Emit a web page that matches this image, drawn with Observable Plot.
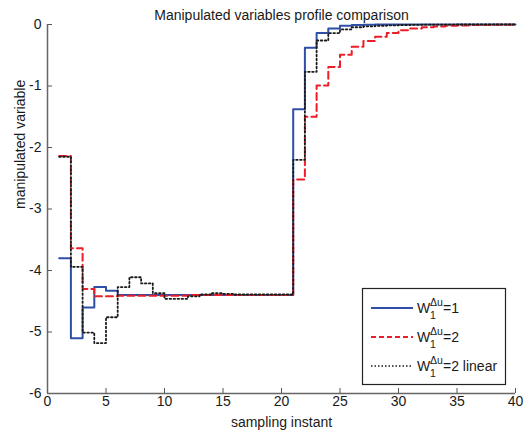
<!DOCTYPE html>
<html>
<head>
<meta charset="utf-8">
<script src="https://cdn.jsdelivr.net/npm/d3@7"></script>
<script src="https://cdn.jsdelivr.net/npm/@observablehq/plot@0.6"></script>
<style>
  html, body { margin: 0; padding: 0; background: #fff; }
  #chart svg { display: block; }
</style>
</head>
<body>
<div id="chart"></div>
<script>
const titleText = "Manipulated variables profile comparison";
const xLabel = "sampling instant";
const yLabel = "manipulated variable";
const xTicks = [0, 5, 10, 15, 20, 25, 30, 35, 40];
const yTicks = [0, -1, -2, -3, -4, -5, -6];

const instants = d3.range(1, 41);

const seriesW1 = [-3.80, -5.10, -4.60, -4.27, -4.33, -4.40, -4.40, -4.40, -4.40, -4.40,
  -4.40, -4.40, -4.40, -4.40, -4.40, -4.40, -4.40, -4.40, -4.40, -4.40,
  -1.38, -0.38, -0.14, -0.065, -0.02, -0.008, -0.004, -0.002, -0.001, 0,
  0, 0, 0, 0, 0, 0, 0, 0, 0, 0];

const seriesW2 = [-2.14, -3.64, -4.30, -4.42, -4.42, -4.41, -4.41, -4.41, -4.41, -4.41,
  -4.41, -4.40, -4.40, -4.40, -4.40, -4.40, -4.40, -4.40, -4.40, -4.40,
  -2.52, -1.50, -0.99, -0.69, -0.49, -0.36, -0.27, -0.20, -0.14, -0.095,
  -0.065, -0.045, -0.032, -0.022, -0.015, -0.010, -0.007, -0.005, -0.003, -0.002];

const seriesW2lin = [-2.15, -3.94, -5.01, -5.18, -4.76, -4.27, -4.11, -4.21, -4.37, -4.46,
  -4.46, -4.42, -4.39, -4.37, -4.38, -4.39, -4.39, -4.39, -4.39, -4.39,
  -2.20, -0.77, -0.26, -0.14, -0.08, -0.045, -0.03, -0.02, -0.013, -0.008,
  -0.005, -0.003, -0.002, -0.001, 0, 0, 0, 0, 0, 0];

const seriesNames = ["W1=1", "W1=2", "W1=2 linear"];
const legendRest = ["=1", "=2", "=2 linear"];
const seriesColors = ["#2f4fa6", "#ec1f28", "#1a1a1a"];
const seriesDash = [null, "7,4", "1.6,2.4"];

const table = (vals, name) => instants.map((x, i) => ({x, y: vals[i], s: name}));

const W = 524, H = 436;
const mL = 47, mR = 9, mT = 24, mB = 43;
const fw = W - mL - mR, fh = H - mT - mB;
const font = "'Liberation Sans', Arial, Helvetica, sans-serif";
const fs = 14;

const lineMark = (vals, k) => Plot.line(table(vals, seriesNames[k]), {
  x: "x", y: "y", curve: "step-after",
  stroke: seriesColors[k], strokeWidth: k === 2 ? 1.8 : 2,
  strokeDasharray: seriesDash[k] || undefined
});

const plot = Plot.plot({
  width: W, height: H,
  marginLeft: mL, marginRight: mR, marginTop: mT, marginBottom: mB,
  style: {fontFamily: font, fontSize: fs + "px", color: "#1a1a1a", background: "#fff"},
  x: {domain: [0, 40], label: null},
  y: {domain: [-6, 0], label: null},
  marks: [
    Plot.axisX(xTicks, {tickSize: 0, tickPadding: 3, fontSize: fs, fill: "#1a1a1a", tickFormat: d => String(d)}),
    Plot.axisY(yTicks, {tickSize: 0, tickPadding: 6, fontSize: fs, fill: "#1a1a1a", tickFormat: d => String(d)}),
    Plot.tickX(xTicks, {x: d => d, insetTop: fh - 5, stroke: "#555", strokeWidth: 1}),
    Plot.tickY(yTicks, {y: d => d, insetRight: fw - 5, stroke: "#555", strokeWidth: 1}),
    lineMark(seriesW1, 0),
    lineMark(seriesW2, 1),
    lineMark(seriesW2lin, 2),
    Plot.ruleX([0], {stroke: "#666", strokeWidth: 1.5}),
    Plot.ruleY([-6], {stroke: "#666", strokeWidth: 1.5}),
    Plot.text([titleText], {text: d => d, frameAnchor: "top", dy: -14, fontSize: fs, fill: "#1a1a1a"}),
    Plot.text([xLabel], {text: d => d, frameAnchor: "bottom", dy: 33, fontSize: fs, fill: "#1a1a1a"}),
    Plot.text([yLabel], {text: d => d, frameAnchor: "left", dx: -27, rotate: -90, fontSize: fs, fill: "#1a1a1a"})
  ]
});

// Legend box (layout constants)
const svg = d3.select(plot);
const lg = svg.append("g").attr("font-family", font).attr("fill", "#1a1a1a").attr("text-anchor", "start");
lg.append("rect").attr("x", 362.5).attr("y", 288.5).attr("width", 143).attr("height", 96)
  .attr("fill", "#fff").attr("stroke", "#222").attr("stroke-width", 1.2);
const rowsY = [308, 337, 366];
seriesNames.forEach((n, k) => {
  const yy = rowsY[k];
  const ln = lg.append("line").attr("x1", 371).attr("x2", 413).attr("y1", yy).attr("y2", yy)
    .attr("stroke", seriesColors[k]).attr("stroke-width", k === 2 ? 1.5 : 2);
  if (seriesDash[k]) ln.attr("stroke-dasharray", k === 2 ? "1.5,2" : "5,3");
  lg.append("text").attr("x", 417).attr("y", yy + 5).attr("font-size", 14).text("W");
  lg.append("text").attr("x", 430).attr("y", yy - 2).attr("font-size", 10.5).text("\u0394u");
  lg.append("text").attr("x", 430).attr("y", yy + 11).attr("font-size", 10.5).text("1");
  lg.append("text").attr("x", 443).attr("y", yy + 5).attr("font-size", 14).text(legendRest[k]);
});

document.getElementById("chart").appendChild(plot);
</script>
</body>
</html>
